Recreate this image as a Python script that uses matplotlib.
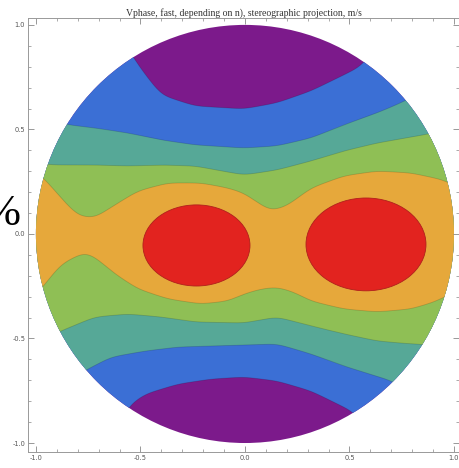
import numpy as np
import matplotlib
matplotlib.use("Agg")
import matplotlib.pyplot as plt
from matplotlib.patches import Circle, Ellipse
from matplotlib.ticker import MultipleLocator

# Band boundaries of the fast-wave phase velocity map (stereographic projection),
# each given as (x, y) nodes in projection coordinates, ordered by x.
purple_blue_top_x = [-1.00, -0.60, -0.512, -0.402, -0.239, -0.005, 0.153, 0.316, 0.474, 0.560, 0.63, 1.00]
purple_blue_top_y = [1.20, 0.95, 0.809, 0.665, 0.612, 0.598, 0.627, 0.684, 0.761, 0.804, 0.90, 1.20]

blue_teal_top_x = [-1.00, -0.95, -0.847, -0.718, -0.560, -0.402, -0.239, -0.005, 0.153, 0.316, 0.474, 0.632, 0.746, 0.79, 0.85, 1.00]
blue_teal_top_y = [0.56, 0.55, 0.522, 0.507, 0.483, 0.450, 0.426, 0.411, 0.421, 0.459, 0.522, 0.579, 0.627, 0.65, 0.68, 0.75]

teal_green_top_x = [-1.00, -0.919, -0.718, -0.560, -0.402, -0.239, -0.005, 0.153, 0.316, 0.474, 0.632, 0.856, 0.93, 1.00]
teal_green_top_y = [0.34, 0.330, 0.330, 0.325, 0.330, 0.325, 0.282, 0.306, 0.349, 0.397, 0.435, 0.474, 0.49, 0.50]

green_orange_top_x = [-1.00, -0.962, -0.880, -0.799, -0.718, -0.622, -0.512, -0.368, -0.211, -0.081, -0.005,
                      0.077, 0.124, 0.201, 0.316, 0.474, 0.632, 0.794, 0.952, 1.00]
green_orange_top_y = [0.30, 0.268, 0.172, 0.086, 0.077, 0.139, 0.206, 0.244, 0.244, 0.220, 0.196,
                      0.139, 0.110, 0.134, 0.220, 0.278, 0.301, 0.292, 0.258, 0.23]

green_orange_bot_x = [-1.00, -0.957, -0.880, -0.766, -0.718, -0.622, -0.512, -0.368, -0.211, -0.081, -0.005,
                      0.077, 0.153, 0.234, 0.316, 0.474, 0.632, 0.794, 0.919, 0.952, 1.00]
green_orange_bot_y = [-0.30, -0.239, -0.144, -0.086, -0.110, -0.191, -0.263, -0.311, -0.335, -0.321, -0.287,
                      -0.263, -0.254, -0.278, -0.321, -0.359, -0.373, -0.359, -0.321, -0.301, -0.28]

teal_green_bot_x = [-1.00, -0.880, -0.718, -0.560, -0.402, -0.239, -0.005, 0.153, 0.316, 0.474, 0.632, 0.794, 0.842, 0.95, 1.00]
teal_green_bot_y = [-0.52, -0.464, -0.397, -0.383, -0.397, -0.421, -0.426, -0.397, -0.440, -0.478, -0.512, -0.526, -0.526, -0.55, -0.56]

blue_teal_bot_x = [-1.00, -0.85, -0.751, -0.641, -0.478, -0.321, -0.163, -0.005, 0.153, 0.316, 0.474, 0.703, 0.78, 1.00]
blue_teal_bot_y = [-0.78, -0.70, -0.646, -0.589, -0.560, -0.541, -0.536, -0.531, -0.526, -0.574, -0.632, -0.703, -0.75, -0.90]

purple_blue_bot_x = [-1.00, -0.62, -0.560, -0.478, -0.321, -0.163, -0.005, 0.153, 0.316, 0.522, 0.60, 1.00]
purple_blue_bot_y = [-1.20, -0.95, -0.823, -0.766, -0.718, -0.694, -0.684, -0.703, -0.751, -0.852, -0.95, -1.20]

# Maxima of the phase velocity: centre x, centre y, width, height
peak_cx = [-0.232, 0.579]
peak_cy = [-0.055, -0.050]
peak_w = [0.512, 0.574]
peak_h = [0.388, 0.444]

band_colors = {
    "purple": "#7c1a8b",
    "blue": "#3b6fd5",
    "teal": "#56a897",
    "green": "#8fbf55",
    "orange": "#e6a83b",
    "red": "#e2231f",
}

title = "Vphase, fast, depending on n), stereographic projection, m/s"

fig = plt.figure(figsize=(4.60, 4.68), dpi=100)
W, H = 460, 468
ax = fig.add_axes([28 / W, 1 - 452 / H, (459 - 28) / W, (452 - 18) / H])
ax.set_xlim(-1.038, 1.024)
ax.set_ylim(-1.043, 1.033)

xs = np.linspace(-1.2, 1.2, 961)
step = xs[1] - xs[0]
_k = np.arange(-40, 41) * step
kernel = np.exp(-0.5 * (_k / 0.03) ** 2)
kernel /= kernel.sum()


def curve(xn, yn):
    # piecewise path through the nodes, rounded off with a short Gaussian kernel
    raw = np.interp(xs, xn, yn)
    padded = np.pad(raw, 40, mode="edge")
    return np.convolve(padded, kernel, mode="valid")


disk = Circle((0, 0), 1.0, transform=ax.transData, facecolor="none", edgecolor="none")
ax.add_patch(disk)

layers = [
    ("purple", np.full_like(xs, -1.3), np.full_like(xs, 1.3)),
    ("blue", curve(purple_blue_bot_x, purple_blue_bot_y), curve(purple_blue_top_x, purple_blue_top_y)),
    ("teal", curve(blue_teal_bot_x, blue_teal_bot_y), curve(blue_teal_top_x, blue_teal_top_y)),
    ("green", curve(teal_green_bot_x, teal_green_bot_y), curve(teal_green_top_x, teal_green_top_y)),
    ("orange", curve(green_orange_bot_x, green_orange_bot_y), curve(green_orange_top_x, green_orange_top_y)),
]
for name, lo, hi in layers:
    poly = ax.fill_between(xs, lo, hi, color=band_colors[name], linewidth=0)
    poly.set_clip_path(disk)
    if name != "purple":
        for edge in (lo, hi):
            ln, = ax.plot(xs, edge, color="#000000", alpha=0.15, lw=0.6)
            ln.set_clip_path(disk)

for cx, cy, w, h in zip(peak_cx, peak_cy, peak_w, peak_h):
    ax.add_patch(Ellipse((cx, cy), w, h, facecolor=band_colors["red"],
                         edgecolor="#b0201c", linewidth=0.6))

ax.xaxis.set_major_locator(MultipleLocator(0.5))
ax.yaxis.set_major_locator(MultipleLocator(0.5))
ax.xaxis.set_minor_locator(MultipleLocator(0.1))
ax.yaxis.set_minor_locator(MultipleLocator(0.1))
ax.tick_params(which="both", direction="in", top=True, right=True, colors="#888888",
               labelcolor="#555555", labelsize=4.8, pad=2)
ax.tick_params(which="major", length=4, width=0.6)
ax.tick_params(which="minor", length=2, width=0.5)
ax.xaxis.set_major_formatter(plt.FuncFormatter(lambda v, p: f"{v:.1f}"))
ax.yaxis.set_major_formatter(plt.FuncFormatter(lambda v, p: f"{v:.1f}"))
for s in ax.spines.values():
    s.set_color("#999999")
    s.set_linewidth(0.7)

ax.set_title(title, fontsize=7, family="Liberation Serif", color="#333333", pad=1.5)

fig.text(21 / W, 1 - 214 / H, "%", ha="right", va="center", fontsize=32,
         family="Liberation Serif", color="black")

fig.savefig("out.png", dpi=100)
